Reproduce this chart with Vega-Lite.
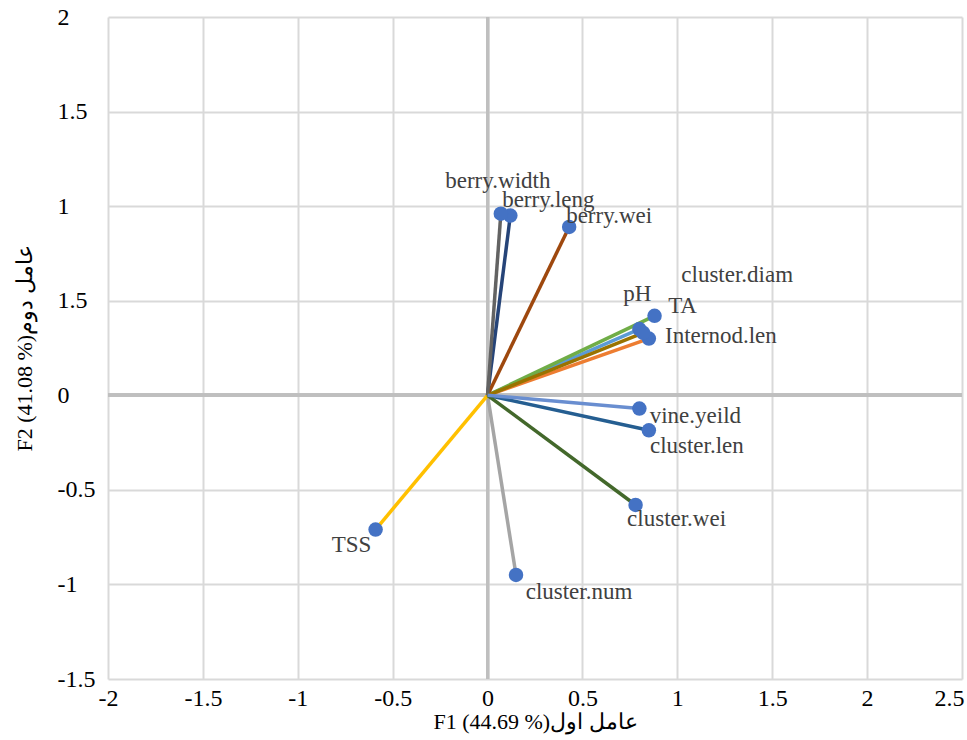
{
  "$schema": "https://vega.github.io/schema/vega-lite/v6.json",
  "width": 854,
  "height": 662,
  "autosize": {"type": "none"},
  "padding": {"left": 108, "top": 17, "right": 5, "bottom": 61},
  "background": "white",
  "config": {
    "view": {"stroke": null},
    "font": "Times New Roman"
  },
  "data": {
    "values": [
      {"name": "Internod.len", "F1": 0.85, "F2": 0.30},
      {"name": "cluster.num", "F1": 0.15, "F2": -0.95},
      {"name": "TSS", "F1": -0.59, "F2": -0.71},
      {"name": "pH", "F1": 0.80, "F2": 0.35},
      {"name": "TA", "F1": 0.88, "F2": 0.42},
      {"name": "berry.leng", "F1": 0.12, "F2": 0.95},
      {"name": "berry.wei", "F1": 0.43, "F2": 0.89},
      {"name": "berry.width", "F1": 0.07, "F2": 0.96},
      {"name": "cluster.diam", "F1": 0.82, "F2": 0.33},
      {"name": "cluster.len", "F1": 0.85, "F2": -0.185},
      {"name": "cluster.wei", "F1": 0.78, "F2": -0.58},
      {"name": "vine.yeild", "F1": 0.80, "F2": -0.07}
    ]
  },
  "encoding": {
    "x": {
      "field": "F1", "type": "quantitative",
      "scale": {"domain": [-2, 2.5], "nice": false, "zero": false},
      "axis": {
        "values": [-2, -1.5, -1, -0.5, 0, 0.5, 1, 1.5, 2, 2.5],
        "labelExpr": "toString(datum.value)",
        "grid": true, "gridColor": "#d9d9d9", "gridWidth": 2,
        "domain": false, "ticks": false, "tickSize": 0,
        "labelFont": "Times New Roman", "labelFontSize": 24, "labelColor": "#000000",
        "labelPadding": 7, "labelFlush": false,
        "labelAlign": {"condition": {"test": "datum.value == 2.5", "value": "right"}, "value": "center"},
        "labelOffset": {"condition": {"test": "datum.value == 2.5", "value": 2}, "value": 0},
        "title": "F1 (44.69 %)عامل اول",
        "titleFont": "Times New Roman", "titleFontSize": 22, "titleFontWeight": "normal", "titleColor": "#000000",
        "titlePadding": 1
      }
    },
    "y": {
      "field": "F2", "type": "quantitative",
      "scale": {"domain": [-1.5, 2], "nice": false, "zero": false},
      "axis": {
        "values": [-1.5, -1, -0.5, 0, 0.5, 1, 1.5, 2],
        "labelExpr": "datum.value == 0.5 ? '1.5' : toString(datum.value)",
        "grid": true, "gridColor": "#d9d9d9", "gridWidth": 2,
        "domain": false, "ticks": false, "tickSize": 0,
        "labelFont": "Times New Roman", "labelFontSize": 24, "labelColor": "#000000",
        "labelAlign": "left", "labelBaseline": "middle", "labelPadding": 51, "labelFlush": false,
        "title": "F2 (41.08 %)عامل دوم",
        "titleFont": "Times New Roman", "titleFontSize": 22, "titleFontWeight": "normal", "titleColor": "#000000",
        "titlePadding": 21
      }
    }
  },
  "layer": [
    {"mark": {"type": "rule", "color": "#bfbfbf", "strokeWidth": 3}, "encoding": {"x": {"datum": 0}, "y": null}},
    {"mark": {"type": "rule", "color": "#bfbfbf", "strokeWidth": 3}, "encoding": {"y": {"datum": 0}, "x": null}},
    {
      "mark": {"type": "rule", "strokeWidth": 3.5},
      "encoding": {
        "x2": {"datum": 0},
        "y2": {"datum": 0},
        "color": {
          "field": "name", "type": "nominal", "legend": null,
          "scale": {
            "domain": ["Internod.len", "cluster.num", "TSS", "pH", "TA", "berry.leng", "berry.wei", "berry.width", "cluster.diam", "cluster.len", "cluster.wei", "vine.yeild"],
            "range": ["#ED7D31", "#A5A5A5", "#FFC000", "#5B9BD5", "#70AD47", "#264478", "#9E480E", "#636363", "#997300", "#255E91", "#43682B", "#698ED0"]
          }
        }
      }
    },
    {"mark": {"type": "circle", "size": 210, "color": "#4472C4", "opacity": 1}},
    {"transform": [{"filter": "datum.name == 'berry.width'"}], "mark": {"type": "text", "font": "Times New Roman", "fontSize": 23, "color": "#404040", "align": "center", "baseline": "middle", "dx": -3, "dy": -33}, "encoding": {"text": {"field": "name"}}},
    {"transform": [{"filter": "datum.name == 'berry.leng'"}], "mark": {"type": "text", "font": "Times New Roman", "fontSize": 23, "color": "#404040", "align": "center", "baseline": "middle", "dx": 38, "dy": -16}, "encoding": {"text": {"field": "name"}}},
    {"transform": [{"filter": "datum.name == 'berry.wei'"}], "mark": {"type": "text", "font": "Times New Roman", "fontSize": 23, "color": "#404040", "align": "center", "baseline": "middle", "dx": 40, "dy": -11}, "encoding": {"text": {"field": "name"}}},
    {"transform": [{"filter": "datum.name == 'cluster.diam'"}], "mark": {"type": "text", "font": "Times New Roman", "fontSize": 23, "color": "#404040", "align": "center", "baseline": "middle", "dx": 94, "dy": -58}, "encoding": {"text": {"field": "name"}}},
    {"transform": [{"filter": "datum.name == 'pH'"}], "mark": {"type": "text", "font": "Times New Roman", "fontSize": 23, "color": "#404040", "align": "center", "baseline": "middle", "dx": -2, "dy": -35}, "encoding": {"text": {"field": "name"}}},
    {"transform": [{"filter": "datum.name == 'TA'"}], "mark": {"type": "text", "font": "Times New Roman", "fontSize": 23, "color": "#404040", "align": "center", "baseline": "middle", "dx": 28, "dy": -10}, "encoding": {"text": {"field": "name"}}},
    {"transform": [{"filter": "datum.name == 'Internod.len'"}], "mark": {"type": "text", "font": "Times New Roman", "fontSize": 23, "color": "#404040", "align": "center", "baseline": "middle", "dx": 72, "dy": -3}, "encoding": {"text": {"field": "name"}}},
    {"transform": [{"filter": "datum.name == 'vine.yeild'"}], "mark": {"type": "text", "font": "Times New Roman", "fontSize": 23, "color": "#404040", "align": "center", "baseline": "middle", "dx": 56, "dy": 7}, "encoding": {"text": {"field": "name"}}},
    {"transform": [{"filter": "datum.name == 'cluster.len'"}], "mark": {"type": "text", "font": "Times New Roman", "fontSize": 23, "color": "#404040", "align": "center", "baseline": "middle", "dx": 48, "dy": 16}, "encoding": {"text": {"field": "name"}}},
    {"transform": [{"filter": "datum.name == 'cluster.wei'"}], "mark": {"type": "text", "font": "Times New Roman", "fontSize": 23, "color": "#404040", "align": "center", "baseline": "middle", "dx": 41, "dy": 14}, "encoding": {"text": {"field": "name"}}},
    {"transform": [{"filter": "datum.name == 'TSS'"}], "mark": {"type": "text", "font": "Times New Roman", "fontSize": 23, "color": "#404040", "align": "center", "baseline": "middle", "dx": -24, "dy": 15}, "encoding": {"text": {"field": "name"}}},
    {"transform": [{"filter": "datum.name == 'cluster.num'"}], "mark": {"type": "text", "font": "Times New Roman", "fontSize": 23, "color": "#404040", "align": "center", "baseline": "middle", "dx": 63, "dy": 17}, "encoding": {"text": {"field": "name"}}}
  ]
}
